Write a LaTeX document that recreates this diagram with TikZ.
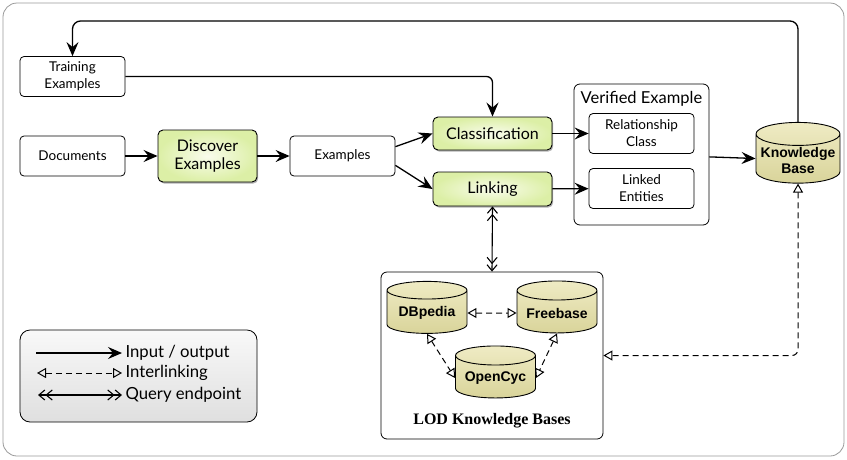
\documentclass[tikz,border=0pt]{standalone}
\usepackage{fontspec}
\setmainfont{Lato}
\newfontfamily\kbfont{Liberation Sans}
\newfontfamily\lodfont{Liberation Serif}
\usetikzlibrary{arrows.meta,shapes.geometric,shadows}

\definecolor{greenin}{HTML}{F9FCEC}
\definecolor{greenout}{HTML}{DCEFA6}
\definecolor{tantop}{HTML}{EFEBC4}
\definecolor{tanbot}{HTML}{D9D49A}
\definecolor{framegray}{HTML}{9A9A9A}

\tikzset{
  plain/.style={draw, rounded corners=4pt, line width=.8pt, align=center,
    minimum width=105pt, minimum height=40pt, inner sep=2pt},
  stepbox/.style={draw, rounded corners=5pt, line width=.9pt, align=center,
    inner color=greenin, outer color=greenout, inner sep=2pt,
    drop shadow={shadow xshift=1.2pt, shadow yshift=-1.6pt, opacity=.6},
    font=\fontsize{16}{18}\selectfont},
  group/.style={draw, rounded corners=6pt, line width=.8pt, fill=white},
  kbcyl/.style={cylinder, shape border rotate=90, draw, line width=.9pt,
    aspect=.3, top color=tantop, bottom color=tanbot, align=center,
    inner sep=1pt, font=\kbfont\bfseries\fontsize{14}{16}\selectfont},
  io/.style={line width=1.3pt, -{Stealth[length=14pt, width=12pt, inset=5pt]}},
  interlink/.style={line width=1pt, dash pattern=on 6pt off 4pt,
    {Triangle[open, length=9pt, width=10pt]}-{Triangle[open, length=9pt, width=10pt]}},
  query/.style={line width=1.1pt,
    {Straight Barb[length=6pt, width=10pt] Straight Barb[length=6pt, width=10pt]}-{Straight Barb[length=6pt, width=10pt] Straight Barb[length=6pt, width=10pt]}}
}

\begin{document}
\begin{tikzpicture}[x=1pt, y=-1pt, font=\fontsize{13.5}{17}\selectfont]
  \useasboundingbox (0,0) rectangle (847,459);
  \draw[framegray, line width=.8pt, rounded corners=14pt] (3,3) rectangle (844,456);

  % input side
  \begin{scope}[every node/.style={plain}]
    \node (1) at (72.5,76.5) {Training\\Examples};
    \node (2) at (72.5,156)  {Documents};
    \node (4) at (342.5,156) {Examples};
  \end{scope}

  \begin{scope}[every node/.style={stepbox}]
    \node[minimum width=99pt, minimum height=52pt] (3) at (207.5,156) {Discover\\Examples};
    \node[minimum width=119pt, minimum height=33pt] (5) at (492.5,133.5) {Classification};
    \node[minimum width=119pt, minimum height=34pt] (6) at (492.5,189) {Linking};
  \end{scope}

  % verified example
  \node[group, minimum width=135pt, minimum height=141pt] (7) at (641.5,154.5) {};
  \node[font=\fontsize{16.5}{18}\selectfont] (vt) at (641.5,99) {Verified Example};
  \begin{scope}[every node/.style={plain}]
    \node (8) at (641.5,133.5) {Relationship\\Class};
    \node (9) at (641.5,188.5) {Linked\\Entities};
  \end{scope}

  \node[kbcyl, minimum width=84pt, minimum height=49pt] (10) at (798,160) {Knowledge\\Base};

  % LOD knowledge bases
  \node[group, minimum width=222pt, minimum height=167pt] (11) at (492,355.5) {};
  \node[font=\lodfont\bfseries\fontsize{16}{18}\selectfont] (lt) at (492,421) {LOD Knowledge Bases};
  \begin{scope}[every node/.style={kbcyl, minimum width=80pt, minimum height=52pt}]
    \node (12) at (427,313)   {DBpedia};
    \node (13) at (557,313)   {Freebase};
    \node (14) at (495.5,378) {OpenCyc};
  \end{scope}

  \begin{scope}[every edge/.style={draw, io}]
    \path (2) edge (3);
    \path (3) edge (4);
    \path (4.10) edge (5.west);
    \path (4.-10) edge (6.west);
    \path (5) edge (8);
    \path (6) edge (9);
    \path (7) edge (10);
  \end{scope}

  \coordinate (top) at (0,21);
  \draw[io, rounded corners=8pt] (10.north) -- (10.north |- top) -| (1.north);
  \draw[io, rounded corners=6pt] (1.east) -| (5.north);

  \draw[query] (6.south) -- (11.north);

  \begin{scope}[every edge/.style={draw, interlink}]
    \path (12) edge (13);
    \path (12.south) edge (14.west);
    \path (13.south) edge (14.east);
  \end{scope}
  \draw[interlink, rounded corners=6pt] (10.south) |- (11.east);

  % legend
  \node[draw, rounded corners=10pt, line width=.8pt, top color=gray!5, bottom color=gray!25,
    minimum width=237pt, minimum height=92pt] (15) at (138.5,376) {};
  \begin{scope}[every node/.style={anchor=west, font=\fontsize{16.7}{18}\selectfont}]
    \node (l1) at (122,353) {Input / output};
    \node (l2) at (122,373) {Interlinking};
    \node (l3) at (122,395) {Query endpoint};
  \end{scope}
  \coordinate (a1) at (36,353);
  \coordinate (a2) at (37,373);
  \coordinate (a3) at (38,395);
  \draw[io] (a1) -- (l1.west);
  \draw[interlink] (a2) -- (l2.west);
  \draw[query] (a3) -- (l3.west);

\end{tikzpicture}
\end{document}
